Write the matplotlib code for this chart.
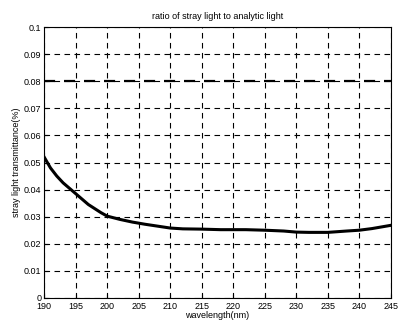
import matplotlib
matplotlib.use("Agg")
from matplotlib import pyplot as plt
import numpy as np

wavelength = [190, 191, 192, 193, 194, 195, 196, 197, 198, 199, 200, 202, 204, 206, 208, 210,
              212, 215, 218, 220, 222, 225, 228, 230, 232, 235, 238, 240, 242, 245]
ratio = [0.052, 0.048, 0.045, 0.0425, 0.0405, 0.0385, 0.0365, 0.0345, 0.033, 0.0315, 0.0302,
         0.029, 0.028, 0.0272, 0.0265, 0.0258, 0.0255, 0.0254, 0.0252, 0.0252, 0.0252, 0.025,
         0.0247, 0.0243, 0.0242, 0.0242, 0.0247, 0.025, 0.0256, 0.0268]
limit = 0.08

xticks = np.arange(190, 246, 5)
yticks = np.arange(0, 0.101, 0.01)
ylabels = ["0", "0.01", "0.02", "0.03", "0.04", "0.05", "0.06", "0.07", "0.08", "0.09", "0.1"]

plt.rcParams['font.family'] = ['Liberation Sans', 'DejaVu Sans']
fig = plt.figure(figsize=(3.98, 3.31), dpi=100)
ax = fig.add_axes([0.111, 0.1, 0.871, 0.818])

ax.plot(wavelength, ratio, color="black", linewidth=2.2)
ax.axhline(limit, color="black", linewidth=1.6, dashes=(5, 4))

ax.set_xlim(190, 245)
ax.set_ylim(0, 0.1)
ax.set_xticks(xticks)
ax.set_yticks(yticks)
ax.set_yticklabels(ylabels)
ax.grid(True, color="black", linewidth=0.8, dashes=(5, 4))
ax.tick_params(direction="in", length=3, labelsize=6.5)
ax.tick_params(axis="x", pad=3)
ax.tick_params(axis="y", pad=2)
for s in ax.spines.values():
    s.set_linewidth(0.8)

ax.set_xlabel("wavelength(nm)", fontsize=6.5, labelpad=0)
ax.set_ylabel("stray light transmittance(%)", fontsize=6.5, labelpad=2)
ax.set_title("ratio of stray light to analytic light", fontsize=6.5, pad=6)

plt.savefig("out.png", dpi=100)
